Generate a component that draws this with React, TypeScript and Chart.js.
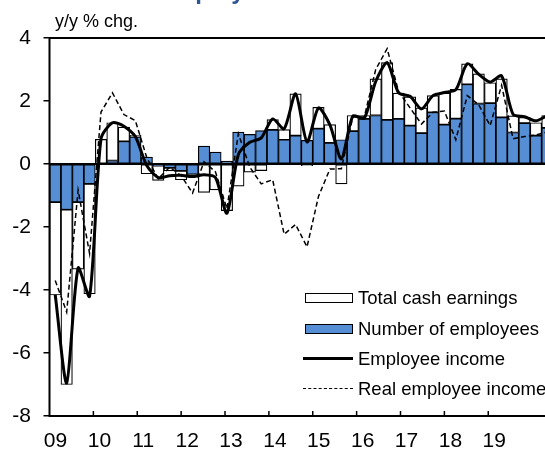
import React, { useEffect, useRef } from 'react';
import { Chart, registerables } from 'chart.js';

Chart.register(...registerables);

const FONT = '"Liberation Sans", Arial, sans-serif';

const quarterLabels = [
  '2009Q1', '2009Q2', '2009Q3', '2009Q4',
  '2010Q1', '2010Q2', '2010Q3', '2010Q4',
  '2011Q1', '2011Q2', '2011Q3', '2011Q4',
  '2012Q1', '2012Q2', '2012Q3', '2012Q4',
  '2013Q1', '2013Q2', '2013Q3', '2013Q4',
  '2014Q1', '2014Q2', '2014Q3', '2014Q4',
  '2015Q1', '2015Q2', '2015Q3', '2015Q4',
  '2016Q1', '2016Q2', '2016Q3', '2016Q4',
  '2017Q1', '2017Q2', '2017Q3', '2017Q4',
  '2018Q1', '2018Q2', '2018Q3', '2018Q4',
  '2019Q1', '2019Q2', '2019Q3', '2019Q4',
  '2020Q1', '2020Q2',
];

const yearStart = 2009;
const yearEnd = 2021;
const yearLabels = ['09', '10', '11', '12', '13', '14', '15', '16', '17', '18', '19'];

// Number of employees (contribution)
const employees = [
  -1.21, -1.45, -1.21, -0.63,
  0.02, 0.11, 0.72, 0.86,
  0.22, -0.05, -0.12, -0.22,
  -0.33, 0.57, 0.38, 0.09,
  1.01, 0.94, 1.06, 1.08,
  0.77, 0.9, 0.75, 1.12,
  0.67, 0.77, 1.04, 1.43,
  1.54, 1.4, 1.43, 1.22,
  0.98, 1.64, 1.25, 1.44,
  2.53, 1.92, 1.93, 1.48,
  1.0, 1.3, 0.9, 1.15,
  null, null,
];

// Total cash earnings (contribution)
const cashEarnings = [
  -2.95, -5.55, -2.13, -3.49,
  0.76, 1.2, 0.45, 0.05,
  -0.31, -0.47, -0.1, -0.28,
  -0.03, -0.9, -0.82, -1.48,
  -0.7, -0.26, -0.21, 0.33,
  0.32, 1.33, -0.05, 0.68,
  0.58, -0.63, 0.5, 0.11,
  1.16, 1.82, 0.82, 0.91,
  0.8, 0.53, 1.0, 0.93,
  0.65, 0.94, 0.65, 1.22,
  0.53, 0.18, 0.41, 0.39,
  null, null,
];

// Employee income
const employeeIncome = [
  -4.15, -6.95, -3.3, -4.2,
  0.8, 1.31, 1.2, 0.87,
  -0.05, -0.43, -0.37, -0.36,
  -0.4, -0.34, -0.43, -1.56,
  0.3, 0.69, 0.83, 1.43,
  1.12, 2.23, 0.7, 1.78,
  1.24, 0.16, 1.52, 1.45,
  2.62, 3.22, 2.26, 2.15,
  1.75, 2.17, 2.27, 2.36,
  3.18, 2.85, 2.6, 2.8,
  1.58, 1.5, 1.37, 1.54,
  null, null,
];

// Real employee income
const realEmployeeIncome = [
  -3.7, -4.7, -0.83, -2.84,
  1.65, 2.26, 1.57, 1.38,
  0.2, -0.47, -0.1, -0.37,
  -0.92, 0.07, -0.25, -1.42,
  0.96, -0.1, -0.63, -0.5,
  -2.23, -1.92, -2.63, -1.03,
  -0.16, -0.15, 1.49, 1.49,
  3.0, 3.66, 2.3, 1.78,
  1.27, 1.64, 1.68, 0.77,
  2.17, 1.88, 1.22, 2.5,
  0.8, 0.87, 0.92, 1.02,
  null, null,
];

const BLUE = '#558ED5';

const framePlugin = {
  id: 'framePlugin',
  afterDatasetsDraw(chart: any) {
    const { ctx, chartArea: a, scales } = chart;
    const y = scales.y;
    const yr = scales.year;
    ctx.save();
    ctx.strokeStyle = '#000';
    ctx.lineWidth = 2;
    const z = y.getPixelForValue(0);
    ctx.beginPath();
    ctx.moveTo(a.left, z);
    ctx.lineTo(a.right, z);
    ctx.stroke();
    ctx.strokeRect(a.left, a.top, a.right - a.left, a.bottom - a.top);
    ctx.lineWidth = 1.5;
    for (let i = 1; i < yearLabels.length; i++) {
      const x = yr.getPixelForValue(yearStart + i);
      ctx.beginPath();
      ctx.moveTo(x, a.bottom);
      ctx.lineTo(x, a.bottom - 5);
      ctx.stroke();
    }
    ctx.restore();
  },
};

export default function App() {
  const ref = useRef<HTMLCanvasElement | null>(null);

  useEffect(() => {
    if (!ref.current) return;
    Chart.defaults.font.family = FONT;
    const chart = new Chart(ref.current, {
      type: 'bar',
      data: {
        labels: quarterLabels,
        datasets: [
          {
            type: 'bar',
            label: 'Number of employees',
            data: employees,
            backgroundColor: BLUE,
            borderColor: '#000',
            borderWidth: 1.2,
            borderSkipped: false,
            stack: 'bars',
            categoryPercentage: 1,
            barPercentage: 1,
            order: 1,
          } as any,
          {
            type: 'bar',
            label: 'Total cash earnings',
            data: cashEarnings,
            backgroundColor: '#ffffff',
            borderColor: '#000',
            borderWidth: 1.2,
            borderSkipped: false,
            stack: 'bars',
            categoryPercentage: 1,
            barPercentage: 1,
            order: 1,
          } as any,
          {
            type: 'line',
            label: 'Employee income',
            data: employeeIncome,
            borderColor: '#000',
            borderWidth: 3,
            pointRadius: 0,
            tension: 0.25,
            stack: 'line1',
            order: -1,
          } as any,
          {
            type: 'line',
            label: 'Real employee income',
            data: realEmployeeIncome,
            borderColor: '#000',
            borderWidth: 1.5,
            borderDash: [5, 3],
            pointRadius: 0,
            tension: 0,
            stack: 'line2',
            order: -2,
          } as any,
        ],
      },
      options: {
        responsive: false,
        devicePixelRatio: 1,
        animation: false,
        layout: { padding: { top: 38, right: 24, bottom: 0, left: 0 } },
        plugins: {
          legend: { display: false },
          tooltip: { enabled: false },
        },
        scales: {
          x: {
            type: 'category',
            display: false,
            stacked: true,
            offset: true,
          },
          year: {
            type: 'linear',
            axis: 'x',
            position: 'bottom',
            offset: false,
            min: yearStart,
            max: yearEnd,
            grid: { display: false, drawTicks: false, offset: false },
            border: { display: false },
            ticks: {
              stepSize: 1,
              autoSkip: false,
              maxRotation: 0,
              color: '#000',
              font: { size: 21, family: FONT },
              padding: 13,
              labelOffset: 6,
              callback: (v: any) => {
                const i = Number(v) - yearStart;
                return i >= 0 && i < yearLabels.length ? yearLabels[i] : '';
              },
            },
            afterFit: (s: any) => {
              s.height = 36;
            },
          },
          y: {
            type: 'linear',
            min: -8,
            max: 4,
            stacked: true,
            border: { display: false },
            grid: {
              drawOnChartArea: false,
              drawTicks: true,
              tickLength: 6,
              tickColor: '#000',
              lineWidth: 1.5,
            },
            ticks: {
              stepSize: 2,
              color: '#000',
              font: { size: 21, family: FONT },
              padding: 12.5,
            },
            afterFit: (s: any) => {
              s.width = 49.5;
            },
          },
        } as any,
      },
      plugins: [framePlugin],
    });
    return () => chart.destroy();
  }, []);

  const legendText: React.CSSProperties = {
    position: 'absolute',
    left: 358,
    fontFamily: FONT,
    fontSize: 18.5,
    lineHeight: 1,
    color: '#000',
    whiteSpace: 'nowrap',
  };

  return (
    <div
      style={{
        position: 'fixed',
        left: 0,
        top: 0,
        width: 545,
        height: 452,
        overflow: 'hidden',
        background: '#fff',
      }}
    >
      <canvas
        ref={ref}
        width={600}
        height={452}
        style={{ position: 'absolute', left: 0, top: 0, width: 600, height: 452 }}
      />
      <div
        style={{
          position: 'absolute',
          left: 158,
          top: -21,
          fontFamily: FONT,
          fontSize: 24,
          fontWeight: 'bold',
          lineHeight: 1,
          color: '#2F5597',
          whiteSpace: 'nowrap',
        }}
      >
        Employee Income
      </div>
      <div
        style={{
          position: 'absolute',
          left: 55,
          top: 12,
          fontFamily: FONT,
          fontSize: 18,
          lineHeight: 1,
          color: '#000',
          whiteSpace: 'nowrap',
        }}
      >
        y/y % chg.
      </div>
      {/* Legend */}
      <div style={{ position: 'absolute', left: 305, top: 293, width: 48, height: 10, boxSizing: 'border-box', border: '1.5px solid #000', background: '#fff' }} />
      <div style={{ ...legendText, top: 289 }}>Total cash earnings</div>
      <div style={{ position: 'absolute', left: 305, top: 324, width: 48, height: 10, boxSizing: 'border-box', border: '1.5px solid #000', background: BLUE }} />
      <div style={{ ...legendText, top: 320 }}>Number of employees</div>
      <div style={{ position: 'absolute', left: 303, top: 357, width: 50, height: 0, borderTop: '3px solid #000' }} />
      <div style={{ ...legendText, top: 350 }}>Employee income</div>
      <div style={{ position: 'absolute', left: 303, top: 388, width: 50, height: 0, borderTop: '1.3px dashed #000' }} />
      <div style={{ ...legendText, top: 380 }}>Real employee income</div>
    </div>
  );
}
